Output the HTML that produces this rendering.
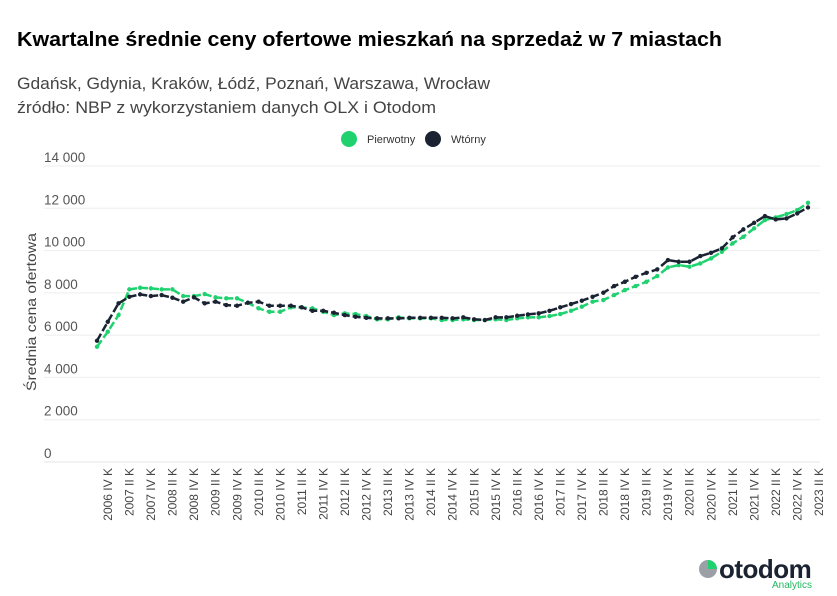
<!DOCTYPE html>
<html><head><meta charset="utf-8"><style>
body{margin:0;background:#fff;font-family:"Liberation Sans",sans-serif}
#c{width:837px;height:596px;position:relative;overflow:hidden}
</style></head><body>
<div id="c">
<svg id="s" width="837" height="596" xmlns="http://www.w3.org/2000/svg">
<text x="17" y="46" font-size="20" font-weight="bold" fill="#000" textLength="705" lengthAdjust="spacingAndGlyphs">Kwartalne średnie ceny ofertowe mieszkań na sprzedaż w 7 miastach</text>
<text x="17" y="89" font-size="16.5" fill="#444" textLength="473" lengthAdjust="spacingAndGlyphs">Gdańsk, Gdynia, Kraków, Łódź, Poznań, Warszawa, Wrocław</text>
<text x="17" y="113" font-size="16.5" fill="#444" textLength="419" lengthAdjust="spacingAndGlyphs">źródło: NBP z wykorzystaniem danych OLX i Otodom</text>
<g>
<g><circle cx="349" cy="139" r="8" fill="#1fd26f"/><text x="367" y="143" font-size="11" fill="#333">Pierwotny</text></g>
<g><circle cx="433" cy="139" r="8" fill="#1b2333"/><text x="451" y="143" font-size="11" fill="#333">Wtórny</text></g>
</g>
<text transform="translate(36,312) rotate(-90)" text-anchor="middle" font-size="14" fill="#444" textLength="158" lengthAdjust="spacingAndGlyphs">Średnia cena ofertowa</text>
<g id="grid"></g><g id="xl"></g><g id="lines"></g>
<g>
<circle cx="708" cy="569" r="9" fill="#9aa0a6"/>
<path d="M708 560 A9 9 0 0 1 717 569 L708 569 Z" fill="#1fd26f"/>
<text x="719" y="578" font-size="26" font-weight="bold" fill="#1b2333" letter-spacing="-0.5">otodom</text>
<text x="812" y="588" text-anchor="end" font-size="10" fill="#1fb85f">Analytics</text>
</g>
</svg></div>
<script>
const yTicks=[0,2000,4000,6000,8000,10000,12000,14000];
const yTickLabels=["0","2 000","4 000","6 000","8 000","10 000","12 000","14 000"];
const pierwotny=[5451,6161,6950,8165,8241,8212,8165,8165,7848,7848,7943,7787,7740,7740,7532,7267,7106,7106,7314,7314,7267,7106,6950,7030,6997,6903,6747,6747,6841,6794,6794,6794,6714,6714,6747,6714,6714,6747,6714,6794,6841,6841,6903,6997,7153,7343,7580,7660,7896,8132,8321,8525,8794,9204,9314,9235,9392,9629,9943,10340,10652,11050,11442,11568,11726,11915,12260];
const wtorny=[5735,6633,7503,7815,7928,7848,7896,7769,7580,7787,7503,7580,7423,7390,7532,7580,7390,7390,7390,7314,7153,7153,7059,6950,6870,6822,6794,6794,6794,6822,6822,6822,6822,6794,6841,6747,6714,6841,6841,6917,6980,7030,7153,7314,7470,7627,7815,8005,8321,8525,8761,8950,9110,9550,9471,9471,9740,9896,10104,10624,11002,11315,11631,11474,11520,11758,12040];
const romans=["I","II","III","IV"];
const categories=[];
for(let i=0;i<67;i++){const q=(3+i)%4,yr=2006+Math.floor((3+i)/4);categories.push(yr+" "+romans[q]+" K");}
const NS="http://www.w3.org/2000/svg";
const x=i=>97+i*(808-97)/(categories.length-1);
const y=v=>462-v*(462-166)/14000;
const grid=document.getElementById('grid');
yTicks.forEach((t,i)=>{
 const l=document.createElementNS(NS,'line');
 l.setAttribute('x1',44);l.setAttribute('x2',820);l.setAttribute('y1',y(t));l.setAttribute('y2',y(t));
 l.setAttribute('stroke',t===0?'#e4e4e4':'#eeeeee');l.setAttribute('stroke-width',1);
 
 
 grid.appendChild(l);
 const tx=document.createElementNS(NS,'text');
 tx.setAttribute('x',44);tx.setAttribute('y',y(t)-4);tx.setAttribute('font-size',13.5);tx.setAttribute('fill','#555');
 tx.textContent=yTickLabels[i];
 
 
 grid.appendChild(tx);
});
const xl=document.getElementById('xl');
categories.forEach((c,i)=>{
 if(i%2)return;
 const tx=document.createElementNS(NS,'text');
 const px=x(i)+15;
 tx.setAttribute('transform','translate('+px+',468) rotate(-90)');
 tx.setAttribute('text-anchor','end');tx.setAttribute('font-size',12);tx.setAttribute('fill','#444');
 tx.textContent=c;
 
 
 xl.appendChild(tx);
});
const lines=document.getElementById('lines');
function series(data,color,name){
 const g=document.createElementNS(NS,'g');
 
 
 const p=document.createElementNS(NS,'path');
 p.setAttribute('d',data.map((v,i)=>(i?'L':'M')+x(i).toFixed(1)+' '+y(v).toFixed(1)).join(''));
 p.setAttribute('fill','none');p.setAttribute('stroke',color);p.setAttribute('stroke-width',2.5);p.setAttribute('stroke-dasharray','8 3');
 
 
 g.appendChild(p);
 data.forEach((v,i)=>{
  const c=document.createElementNS(NS,'circle');
  c.setAttribute('cx',x(i));c.setAttribute('cy',y(v));c.setAttribute('r',2.2);c.setAttribute('fill',color);
  
  
  g.appendChild(c);
 });
 lines.appendChild(g);
}
series(pierwotny,'#1fd26f','series-pierwotny');
series(wtorny,'#1b2333','series-wtorny');
</script>
</body></html>
